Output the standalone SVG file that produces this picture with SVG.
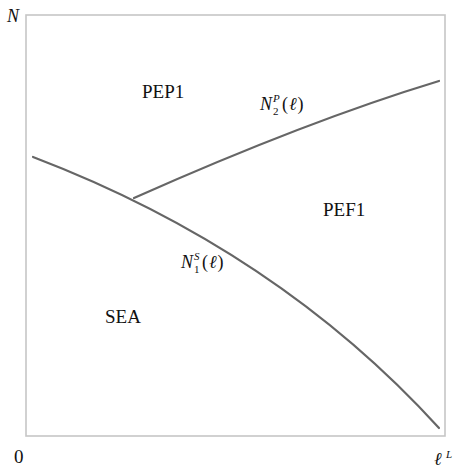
<svg xmlns="http://www.w3.org/2000/svg" width="453" height="468" viewBox="0 0 453 468">
<style>
text{font-family:'Liberation Serif','Times New Roman','DejaVu Serif',serif;fill:#111}
.i{font-style:italic}
.crv{fill:none;stroke:#666;stroke-width:2.2;stroke-linecap:round}
</style>
<rect width="453" height="468" fill="#fff"/>
<g id="frame">
<rect x="26" y="15" width="419" height="421" fill="none" stroke="#c6c6c6" stroke-width="1.6"/>
</g>
<g id="connectors">
<path class="crv" d="M33,157 Q277,250 439,428"/>
<path class="crv" d="M134,198 Q307,121 439,81"/>
</g>
<g id="axis-labels" font-family="Liberation Serif, serif">
<text class="i" x="7" y="22" font-size="18">N</text>
<text x="14" y="463" font-size="19">0</text>
<text class="i" x="434" y="465" font-size="18">ℓ</text>
<text class="i" x="446" y="458" font-size="11">L</text>
</g>
<g id="PEP1" font-family="Liberation Serif, serif"><text x="142" y="98" font-size="19">PEP1</text></g>
<g id="PEF1" font-family="Liberation Serif, serif"><text x="323" y="216" font-size="19">PEF1</text></g>
<g id="SEA" font-family="Liberation Serif, serif"><text x="105" y="323" font-size="19">SEA</text></g>
<g id="label-N2P" font-family="Liberation Serif, serif">
<text class="i" x="260" y="110" font-size="18">N</text>
<text class="i" x="273" y="102" font-size="11">P</text>
<text x="273" y="115" font-size="11">2</text>
<text x="282" y="110" font-size="18">(<tspan class="i" dx="1">ℓ</tspan><tspan dx="1">)</tspan></text>
</g>
<g id="label-N1S" font-family="Liberation Serif, serif">
<text class="i" x="181" y="268" font-size="18">N</text>
<text class="i" x="194" y="260" font-size="11">S</text>
<text x="194" y="273" font-size="11">1</text>
<text x="202" y="268" font-size="18">(<tspan class="i" dx="1">ℓ</tspan><tspan dx="1">)</tspan></text>
</g>
</svg>
